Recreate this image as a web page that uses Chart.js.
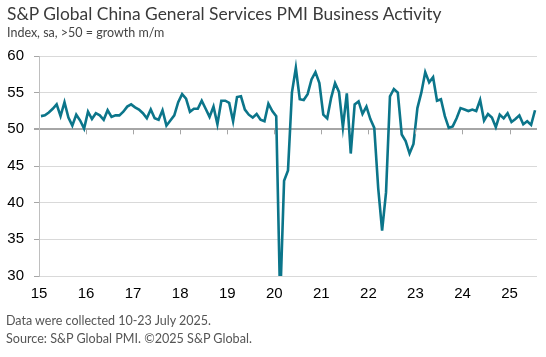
<!DOCTYPE html>
<html>
<head>
<meta charset="utf-8">
<script src="https://cdn.jsdelivr.net/npm/chart.js@4.4.1/dist/chart.umd.min.js"></script>
<style>
  html, body { margin: 0; padding: 0; background: #fff; }
  #wrap { position: relative; width: 546px; height: 357px; overflow: hidden; }
  canvas { position: absolute; left: 0; top: 0; }
  .txt { position: absolute; white-space: nowrap; font-family: Lato, "Open Sans", sans-serif; }
  #title { left: 7px; top: 5px; font-size: 17.4px; line-height: 18px; color: #3a3a3a; }
  #subtitle { left: 7px; top: 27px; font-size: 12.5px; line-height: 12px; color: #444444; }
  #foot1 { left: 6px; top: 314px; font-size: 12.5px; line-height: 13px; color: #555555; }
  #foot2 { left: 6px; top: 332px; font-size: 12.6px; line-height: 13px; color: #555555; }
</style>
</head>
<body>
<div id="wrap">
  <canvas id="c" width="546" height="357"></canvas>
  <div class="txt" id="title">S&amp;P Global China General Services PMI Business Activity</div>
  <div class="txt" id="subtitle">Index, sa, &gt;50 = growth m/m</div>
  <div class="txt" id="foot1">Data were collected 10-23 July 2025.</div>
  <div class="txt" id="foot2">Source: S&amp;P Global PMI. ©2025 S&amp;P Global.</div>
</div>
<script>
// Monthly index values, Jan 2015 - Jul 2025
const pmi2015 = [51.8, 51.9, 52.3, 52.8, 53.4, 51.8, 53.7, 51.6, 50.5, 52.0, 51.2, 50.1];
const pmi2016 = [52.4, 51.4, 52.2, 51.9, 51.3, 52.6, 51.7, 51.9, 51.9, 52.4, 53.1, 53.4];
const pmi2017 = [53.0, 52.7, 52.2, 51.5, 52.7, 51.5, 51.3, 52.6, 50.5, 51.2, 51.9, 53.7];
const pmi2018 = [54.8, 54.2, 52.4, 52.8, 52.8, 53.9, 52.8, 51.7, 53.1, 50.7, 53.9, 53.9];
const pmi2019 = [53.6, 51.1, 54.4, 54.5, 52.7, 52.0, 51.6, 52.1, 51.3, 51.1, 53.5, 52.5];
const pmi2020 = [51.8, 26.5, 43.0, 44.4, 55.0, 58.4, 54.1, 54.0, 54.8, 56.8, 57.8, 56.3];
const pmi2021 = [52.0, 51.5, 54.3, 56.3, 55.1, 50.3, 54.9, 46.7, 53.4, 53.8, 52.1, 53.1];
const pmi2022 = [51.4, 50.2, 42.0, 36.2, 41.4, 54.5, 55.5, 55.0, 49.3, 48.4, 46.7, 48.0];
const pmi2023 = [52.9, 55.0, 57.8, 56.4, 57.1, 53.9, 54.1, 51.8, 50.2, 50.4, 51.5, 52.9];
const pmi2024 = [52.7, 52.5, 52.7, 52.5, 54.0, 51.2, 52.1, 51.6, 50.3, 52.0, 51.5, 52.2];
const pmi2025 = [51.0, 51.4, 51.9, 50.7, 51.1, 50.6, 52.6];

// Year tick labels (placed at each January boundary)
const yearLabels = ["15", "16", "17", "18", "19", "20", "21", "22", "23", "24", "25"];
// Y axis range / ticks
const yMin = 30, yMax = 60, yStep = 5;
const neutralLevel = 50;

const values = [].concat(pmi2015, pmi2016, pmi2017, pmi2018, pmi2019, pmi2020,
                         pmi2021, pmi2022, pmi2023, pmi2024, pmi2025);
const points = values.map((v, i) => ({ x: i, y: v }));
const yearTickValues = yearLabels.map((_, k) => k * 12 - 0.5);

const axisFont = { family: '"Liberation Sans", Arial, sans-serif', size: 15 };

const yearTickPlugin = {
  id: 'yearTicks',
  afterDatasetsDraw(chart) {
    const ctx = chart.ctx, xs = chart.scales.x, ys = chart.scales.y;
    const y0 = ys.getPixelForValue(neutralLevel);
    ctx.save();
    ctx.strokeStyle = '#a6a6a6';
    ctx.lineWidth = 1;
    yearTickValues.forEach((v, k) => {
      if (k === 0) return;
      const x = Math.round(xs.getPixelForValue(v)) + 0.5;
      ctx.beginPath();
      ctx.moveTo(x, y0);
      ctx.lineTo(x, y0 + 5);
      ctx.stroke();
    });
    ctx.restore();
  }
};

new Chart(document.getElementById('c'), {
  type: 'line',
  data: {
    datasets: [{
      data: points,
      borderColor: '#0b758a',
      borderWidth: 2.6,
      pointRadius: 0,
      tension: 0,
      fill: false
    }]
  },
  options: {
    responsive: false,
    animation: false,
    events: [],
    layout: { padding: { top: 56, right: 9, bottom: 0, left: 0 } },
    plugins: { legend: { display: false }, tooltip: { enabled: false } },
    scales: {
      x: {
        type: 'linear',
        min: -0.5,
        max: values.length - 0.5,
        afterBuildTicks: (s) => { s.ticks = yearTickValues.map(v => ({ value: v })); },
        afterFit: (s) => { s.height = 81; },
        grid: { display: false, drawTicks: false },
        border: { display: false },
        ticks: {
          autoSkip: false,
          maxRotation: 0,
          padding: 9,
          color: '#000000',
          font: axisFont,
          callback: (v) => {
            const k = yearTickValues.indexOf(v);
            return k >= 0 ? yearLabels[k] : '';
          }
        }
      },
      y: {
        min: yMin,
        max: yMax,
        afterFit: (s) => { s.width = 39; },
        grid: {
          color: (c) => (c.tick && c.tick.value === neutralLevel) ? '#a6a6a6' : '#d9d9d9',
          lineWidth: (c) => (c.tick && c.tick.value === neutralLevel) ? 2 : 1,
          tickLength: 5,
          tickColor: '#a6a6a6'
        },
        border: { display: true, color: '#bfbfbf', width: 1 },
        ticks: { stepSize: yStep, padding: 10, color: '#000000', font: axisFont }
      }
    }
  },
  plugins: [yearTickPlugin]
});
</script>
</body>
</html>
